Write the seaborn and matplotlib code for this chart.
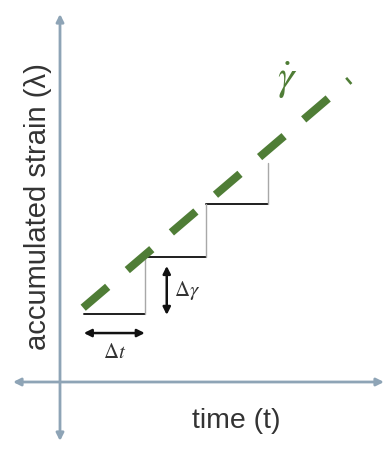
import matplotlib
matplotlib.use("Agg")
import matplotlib.pyplot as plt
import seaborn as sns
import pandas as pd
import numpy as np

# ---- data (time units, strain units) ----
step_t = [0.39, 1.39, 2.39, 3.41]          # times of the step edges
step_s = [1.24, 2.27, 3.24, 3.98]          # accumulated strain levels
rate_t = [0.38, 4.75]                      # mean strain-rate line (gamma dot)
rate_s = [1.35, 5.49]
dt_arrow_t = [0.39, 1.39]                  # Δt arrow span
dt_arrow_s = 0.89
dg_arrow_t = 1.75                          # Δγ arrow position
dg_arrow_s = [1.22, 2.11]
xlabel = "time (t)"
ylabel = "accumulated strain (\u03bb)"

# ---- layout ----
W, H = 386, 449
X0, Y0, XU, YU = 60, 382, 61, 55            # origin pixel and unit sizes
def px_t(x): return (x - X0) / XU
def px_s(y): return (Y0 - y) / YU

sns.set_theme(style="white")
plt.rcParams["font.family"] = ["Liberation Sans", "DejaVu Sans"]
plt.rcParams["mathtext.fontset"] = "stix"

fig = plt.figure(figsize=(W / 100, H / 100), dpi=100)
ax = fig.add_axes([0, 0, 1, 1])
ax.set_xlim(px_t(0), px_t(W))
ax.set_ylim(px_s(H), px_s(0))
ax.axis("off")

axis_col = "#8ea4b6"
# axes with arrowheads
ax.annotate("", xy=(0, px_s(14)), xytext=(0, px_s(441)),
            arrowprops=dict(arrowstyle="<|-|>", color=axis_col, lw=2.0,
                            mutation_scale=11, shrinkA=0, shrinkB=0))
ax.annotate("", xy=(px_t(384), 0), xytext=(px_t(13), 0),
            arrowprops=dict(arrowstyle="<|-|>", color=axis_col, lw=2.0,
                            mutation_scale=11, shrinkA=0, shrinkB=0))

# staircase: treads and risers
treads, risers = [], []
for i in range(len(step_t) - 1):
    treads += [dict(t=step_t[i], s=step_s[i], seg=i), dict(t=step_t[i + 1], s=step_s[i], seg=i)]
    risers += [dict(t=step_t[i + 1], s=step_s[i], seg=i), dict(t=step_t[i + 1], s=step_s[i + 1], seg=i)]
sns.lineplot(data=pd.DataFrame(treads), x="t", y="s", units="seg", estimator=None,
             sort=False, color="#1e1e1e", lw=1.4, ax=ax)
sns.lineplot(data=pd.DataFrame(risers), x="t", y="s", units="seg", estimator=None,
             sort=False, color="#a8a8a8", lw=1.0, ax=ax)

# mean strain-rate dashed line
sns.lineplot(x=rate_t, y=rate_s, color="#4f7d36", lw=5.8, ax=ax,
             linestyle=(0, (4.0, 3.2)), sort=False, estimator=None)

# Δt and Δγ arrows
ax.annotate("", xy=(dt_arrow_t[1], dt_arrow_s), xytext=(dt_arrow_t[0], dt_arrow_s),
            arrowprops=dict(arrowstyle="<|-|>", color="#111111", lw=1.8,
                            mutation_scale=11, shrinkA=0, shrinkB=0))
ax.annotate("", xy=(dg_arrow_t, dg_arrow_s[1]), xytext=(dg_arrow_t, dg_arrow_s[0]),
            arrowprops=dict(arrowstyle="<|-|>", color="#111111", lw=1.8,
                            mutation_scale=11, shrinkA=0, shrinkB=0))

ax.text(np.mean(dt_arrow_t), px_s(353), r"$\Delta t$", ha="center", va="center",
        fontsize=15, color="#333333")
ax.text(dg_arrow_t + 0.12, np.mean(dg_arrow_s), r"$\Delta\gamma$", ha="left", va="center",
        fontsize=15, color="#333333")
ax.text(px_t(287), px_s(80), r"$\dot{\gamma}$", ha="center", va="center",
        fontsize=30, color="#4f7d36")

ax.text(px_t(38), px_s(207), ylabel, rotation=90, ha="center", va="center",
        fontsize=21, color="#333333")
ax.text(px_t(236), px_s(421), xlabel, ha="center", va="center",
        fontsize=20.5, color="#333333")

fig.savefig("out.png", dpi=100)
